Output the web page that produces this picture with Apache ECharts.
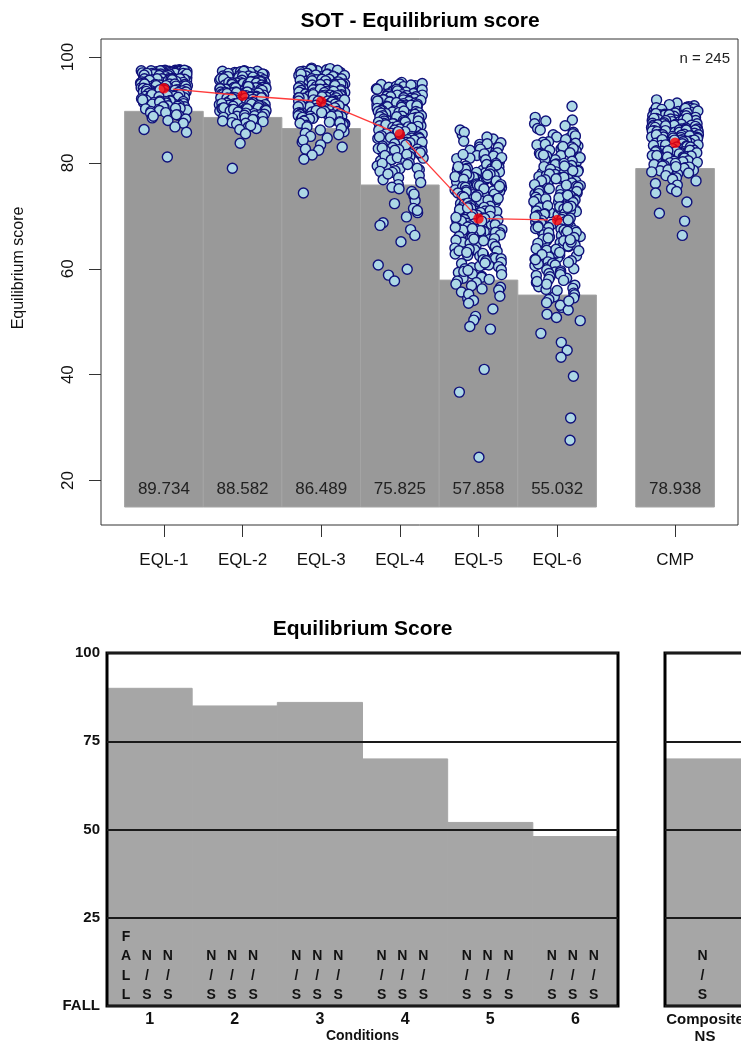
<!DOCTYPE html>
<html>
<head>
<meta charset="utf-8">
<title>SOT - Equilibrium score</title>
<script src="https://cdn.jsdelivr.net/npm/echarts@6.0.0/dist/echarts.min.js"></script>
<style>
  html, body { margin: 0; padding: 0; background: #fff; }
  #chart { width: 741px; height: 1044px; }
</style>
</head>
<body>
<div id="chart"></div>
<script>
(function () {
    'use strict';

    // ---- top panel: SOT equilibrium score ----
    var sotCategories = ['EQL-1', 'EQL-2', 'EQL-3', 'EQL-4', 'EQL-5', 'EQL-6', 'CMP'];
    var sotBarValues = [89.734, 88.582, 86.489, 75.825, 57.858, 55.032, 78.938];
    var sotMeans = [94.1, 92.7, 91.6, 85.4, 69.5, 69.2, 83.8];
    var sampleSize = 245;
    var sotYTicks = [20, 40, 60, 80, 100];
    var sotYName = 'Equilibrium score';

    // individual scores, one list per trial
    var eql1Scores = [
        97.5,97.2,97.4,97.0,97.6,97.3,97.1,97.5,97.2,97.4,
        97.0,97.3,97.1,97.5,97.2,97.4,97.0,97.3,97.1,97.2,
        97.3,97.0,97.1,97.5,97.4,96.9,96.4,96.7,96.1,96.8,
        96.3,96.6,96.0,96.5,96.2,96.8,96.1,96.9,96.5,96.3,
        96.7,96.0,96.4,96.2,96.6,96.9,96.3,96.8,96.1,96.5,
        96.2,96.7,96.4,96.0,96.9,96.6,96.3,96.8,96.5,96.1,
        96.7,96.4,96.2,96.9,96.0,96.6,96.8,96.3,96.5,95.9,
        95.4,95.7,95.1,95.8,95.3,95.6,95.0,95.5,95.2,95.9,
        95.6,95.1,95.8,95.4,95.0,95.7,95.3,95.9,95.2,95.5,
        95.0,95.8,95.3,95.6,95.1,95.4,95.9,95.2,95.7,95.5,
        95.3,95.9,95.0,95.6,95.2,95.8,95.4,95.1,95.7,94.8,
        94.3,94.6,94.1,94.9,94.4,94.0,94.7,94.2,94.5,94.8,
        94.1,94.6,94.3,94.9,94.0,94.5,94.2,94.7,94.4,94.8,
        94.5,94.1,94.7,94.3,94.9,94.2,94.6,94.0,94.4,94.6,
        94.2,94.9,94.5,94.1,93.7,93.2,93.9,93.4,93.0,93.6,
        93.1,93.8,93.3,93.5,93.9,93.2,93.6,93.0,93.4,93.7,
        93.1,93.5,93.8,93.3,93.0,93.6,93.2,93.9,93.4,93.7,
        93.5,93.1,93.8,93.3,92.6,92.1,92.9,92.4,92.0,92.7,
        92.3,92.8,92.5,92.2,92.9,92.6,92.0,92.4,92.7,92.1,
        92.5,92.8,92.3,92.9,92.1,92.6,92.4,92.7,92.5,91.8,
        91.3,91.6,91.1,91.9,91.4,91.0,91.7,91.2,91.5,91.8,
        91.4,91.9,91.1,91.6,91.3,91.7,91.5,90.6,90.2,90.9,
        90.4,90.0,90.7,90.3,90.8,90.1,90.5,90.6,90.3,89.7,
        89.2,89.9,89.4,89.0,89.5,89.1,88.5,88.8,88.0,88.3,
        87.5,86.8,86.3,85.8,81.1
    ];
    var eql2Scores = [
        97.3,96.8,97.1,96.6,97.4,96.9,96.5,97.2,96.7,97.0,
        96.6,97.3,96.9,96.5,97.1,96.7,97.2,96.8,97.0,97.3,
        96.2,95.7,96.4,95.9,96.1,95.5,96.3,95.8,96.0,95.6,
        96.4,95.9,96.1,96.3,95.7,96.2,95.5,96.0,95.8,96.4,
        96.1,95.9,96.3,95.6,95.7,94.8,95.2,94.6,95.4,95.0,
        94.9,95.3,94.7,95.1,94.5,95.4,94.8,95.2,95.0,94.6,
        95.3,94.9,95.1,94.7,95.4,95.0,94.8,95.2,94.5,94.9,
        95.3,95.1,94.7,94.1,93.8,94.3,93.6,94.4,94.0,93.5,
        94.2,93.9,93.7,94.4,94.1,93.5,94.0,93.8,94.3,93.6,
        94.2,93.9,94.0,93.7,94.4,94.1,93.5,93.8,94.3,94.0,
        93.6,94.2,93.9,94.1,93.7,93.3,92.8,93.1,92.6,93.4,
        92.9,93.2,92.5,93.0,92.7,93.3,92.8,93.4,92.6,93.1,
        93.0,92.5,93.2,92.9,93.4,92.7,93.1,92.6,93.3,92.8,
        93.0,92.9,93.2,92.5,93.1,92.7,93.3,92.2,91.8,92.4,
        91.6,92.0,92.3,91.9,91.5,92.1,91.7,92.4,92.2,91.8,
        92.0,91.6,92.3,91.9,92.1,91.5,92.4,91.7,92.2,92.0,
        92.3,91.9,92.1,91.2,90.7,91.4,90.9,91.1,90.5,91.3,
        90.8,91.0,90.6,91.4,90.9,91.2,90.5,91.3,90.7,91.1,
        90.8,91.0,90.6,91.4,91.2,90.9,91.3,90.7,91.1,91.0,
        90.8,91.2,90.3,89.8,90.1,89.6,90.4,89.9,90.0,89.5,
        90.2,89.7,90.3,90.0,89.8,90.4,89.6,90.1,89.9,90.2,
        89.5,90.3,89.7,90.0,90.4,89.8,90.1,89.9,90.2,89.6,
        89.3,88.8,89.1,88.6,89.4,88.9,89.0,88.5,89.2,88.7,
        88.4,88.1,87.8,88.2,87.6,87.9,87.5,87.3,86.8,86.5,
        86.3,87.0,85.5,83.7,79.0
    ];
    var eql3Scores = [
        97.4,97.9,97.1,97.6,97.0,97.8,97.3,97.5,97.2,97.7,
        96.4,96.8,96.1,96.6,96.9,96.3,96.0,96.7,96.5,96.2,
        96.7,96.2,96.9,96.4,96.0,96.5,96.8,96.1,96.6,96.3,
        95.3,95.8,95.1,95.6,95.0,95.9,95.4,95.7,95.2,95.5,
        95.8,95.2,95.6,95.0,95.4,95.9,95.1,95.7,95.3,95.5,
        95.8,95.1,95.5,95.3,94.6,94.1,94.8,94.3,94.9,94.0,
        94.5,94.2,94.7,94.4,94.9,94.0,94.6,94.3,94.8,94.1,
        94.7,94.2,94.5,94.9,94.3,94.0,94.6,94.4,94.8,94.2,
        93.6,93.1,93.8,93.3,93.9,93.0,93.5,93.2,93.7,93.4,
        93.9,93.2,93.6,93.0,93.8,93.3,93.5,93.1,93.7,93.4,
        93.8,93.0,93.6,93.2,93.5,93.9,93.3,92.4,92.8,92.1,
        92.6,92.9,92.3,92.7,92.0,92.5,92.2,92.8,92.4,92.9,
        92.1,92.6,92.3,92.7,92.0,92.5,92.8,92.2,92.6,92.4,
        92.0,92.7,92.3,92.5,91.3,91.8,91.0,91.6,91.2,91.9,
        91.4,91.1,91.7,91.5,91.0,91.8,91.3,91.6,91.2,91.9,
        91.5,91.1,91.7,91.3,91.4,91.9,91.5,91.1,91.7,90.6,
        90.2,90.8,90.4,90.0,90.9,90.3,90.7,90.1,90.5,90.6,
        90.4,90.9,90.1,90.7,90.3,90.0,90.8,90.2,90.6,90.4,
        90.9,90.1,90.6,89.4,89.8,89.1,89.6,89.0,89.9,89.3,
        89.7,89.2,89.5,89.8,89.0,89.6,89.3,89.9,89.1,89.4,
        89.7,89.5,89.2,88.6,88.1,88.9,88.3,88.7,88.0,88.5,
        88.2,88.8,88.4,88.9,88.6,88.0,88.3,88.8,87.4,87.9,
        87.1,87.7,87.3,87.8,87.0,87.5,87.2,87.6,86.8,86.2,
        85.9,86.5,85.3,85.6,85.0,84.7,83.9,84.3,83.0,82.6,
        83.4,82.4,81.5,80.7,74.3
    ];
    var eql4Scores = [
        94.6,95.2,94.1,94.8,94.3,95.0,94.5,94.0,94.9,94.4,
        94.7,93.4,93.9,93.1,93.6,93.0,93.8,93.3,93.5,93.2,
        93.7,93.4,93.9,93.1,93.6,93.8,92.4,92.9,92.1,92.6,
        92.3,92.8,92.0,92.5,92.7,92.2,92.9,92.4,92.6,92.1,
        92.8,92.3,92.5,92.0,91.4,91.8,91.1,91.6,91.0,91.9,
        91.3,91.7,91.2,91.5,91.9,91.0,91.6,91.3,91.8,91.4,
        91.1,91.7,91.2,90.5,90.9,90.2,90.7,90.0,90.4,90.8,
        90.3,90.6,90.1,90.9,90.4,90.7,90.2,90.5,90.0,90.8,
        90.3,90.6,89.4,89.9,89.1,89.7,89.3,89.0,89.8,89.5,
        89.2,89.6,89.9,89.3,89.7,89.0,89.5,89.4,89.8,89.2,
        88.4,88.9,88.1,88.6,88.0,88.7,88.3,88.8,88.2,88.5,
        88.9,88.4,88.1,88.6,88.3,88.7,88.0,87.4,87.9,87.1,
        87.6,87.0,87.8,87.3,87.5,87.2,87.7,87.4,87.9,87.0,
        87.5,87.2,87.7,86.4,86.9,86.1,86.6,86.0,86.8,86.3,
        86.5,86.2,86.7,86.9,86.4,86.0,86.6,86.2,85.4,85.9,
        85.1,85.6,85.0,85.8,85.3,85.7,85.2,85.5,85.9,85.4,
        85.1,84.6,84.1,84.9,84.3,84.7,84.0,84.5,84.8,84.2,
        84.6,84.4,84.9,84.3,83.5,83.9,83.1,83.7,83.2,83.8,
        83.0,83.6,83.3,83.9,83.4,82.6,82.1,82.9,82.3,82.7,
        82.0,82.5,82.8,82.2,82.4,81.5,80.9,81.7,80.4,81.2,
        80.7,81.9,80.1,81.4,80.6,81.0,80.3,81.6,80.0,79.4,
        78.9,79.7,78.5,79.1,78.2,79.9,78.7,79.0,78.4,77.6,
        76.8,77.2,75.9,76.3,75.4,77.9,75.1,74.6,73.8,72.9,
        74.1,72.3,71.4,70.6,69.8,71.0,68.7,68.2,67.4,66.3,
        65.1,60.7,59.9,58.8,57.7
    ];
    var eql5Scores = [
        85.3,86.2,84.5,85.8,84.1,84.9,83.2,82.7,83.8,82.1,
        83.5,82.9,83.0,82.4,83.6,82.6,81.4,80.8,81.9,80.2,
        81.1,80.5,81.7,80.0,81.3,80.9,81.6,80.3,81.0,80.6,
        79.2,78.6,79.7,78.1,79.4,78.9,79.9,78.3,79.0,78.7,
        79.5,78.2,79.1,78.8,79.6,78.4,79.3,77.1,76.5,77.6,
        76.2,77.9,76.8,77.3,76.0,77.5,76.7,77.0,76.4,77.8,
        76.1,77.4,76.9,77.2,76.6,77.7,75.3,74.6,75.8,74.2,
        75.0,74.9,75.5,74.0,75.7,74.4,75.2,74.7,75.9,74.1,
        75.4,74.8,75.1,74.5,75.6,74.3,73.2,72.6,73.7,72.1,
        73.4,72.9,73.0,72.3,73.8,72.7,73.5,72.0,73.1,72.5,
        73.9,72.8,73.3,72.2,73.6,72.4,73.0,71.3,70.5,71.8,
        70.2,71.6,70.9,71.1,70.0,71.5,70.7,71.9,70.4,71.2,
        70.6,71.7,70.1,71.4,70.8,71.0,70.3,71.5,69.4,68.7,
        69.8,68.2,69.1,68.9,69.6,68.4,69.3,68.0,69.9,68.6,
        69.0,68.5,69.5,68.1,69.7,68.8,69.2,68.3,69.0,67.4,
        66.8,67.9,66.2,67.1,66.6,67.7,66.0,67.3,66.9,67.5,
        66.4,67.0,66.7,67.8,66.1,67.2,66.3,67.6,65.2,64.6,
        65.8,64.1,65.5,64.9,65.0,64.3,65.7,64.7,65.4,64.0,
        65.9,64.4,65.3,64.8,65.6,64.2,63.3,62.7,63.9,62.1,
        63.6,62.4,63.0,62.8,63.4,62.2,63.7,62.5,63.1,62.0,
        62.9,61.4,60.8,61.9,60.2,61.0,60.5,61.7,60.0,61.2,
        60.7,61.5,60.4,61.1,59.3,58.6,59.8,58.2,59.0,58.9,
        59.5,58.4,59.7,58.0,57.4,56.8,57.7,56.2,57.1,56.5,
        56.0,55.6,54.4,55.2,54.0,54.8,53.5,52.4,51.0,50.3,
        49.1,48.6,41.0,36.7,24.4
    ];
    var eql6Scores = [
        90.7,88.6,87.4,88.1,86.5,87.9,86.2,87.0,85.3,84.6,
        85.8,84.2,85.0,84.9,85.5,84.0,85.1,84.4,83.2,82.6,
        83.7,82.1,83.9,82.9,83.4,82.3,83.0,82.7,83.5,82.4,
        83.1,81.4,80.6,81.8,80.2,81.1,80.9,81.6,80.0,81.3,
        80.4,81.9,80.7,81.0,80.3,81.5,79.2,78.6,79.8,78.1,
        79.5,78.9,79.0,78.4,79.7,78.3,79.3,78.8,79.9,78.0,
        79.4,78.5,76.7,77.4,76.1,77.8,76.9,77.2,76.4,77.6,
        76.0,77.1,76.5,77.9,76.8,77.3,76.2,77.0,76.6,74.8,
        75.3,74.1,75.9,74.5,75.0,74.9,75.6,74.3,75.2,74.7,
        75.7,74.0,75.4,74.6,75.1,74.2,75.8,73.3,72.6,73.8,
        72.1,73.5,72.9,73.0,72.4,73.7,72.2,73.1,72.8,73.4,
        72.0,73.9,72.5,73.2,72.7,71.5,70.6,71.9,70.2,71.1,
        70.8,71.4,70.0,71.7,70.4,71.0,70.9,71.3,70.5,71.8,
        70.1,71.6,70.3,69.5,68.8,69.9,68.2,69.1,68.6,69.7,
        68.4,69.3,68.0,69.0,68.9,69.6,68.5,69.2,68.1,69.8,
        67.2,66.6,67.8,66.1,67.5,66.9,67.0,66.3,67.6,66.0,
        67.3,66.7,67.9,66.4,67.1,66.8,65.4,64.7,65.9,64.2,
        65.1,64.9,65.6,64.0,65.3,64.5,65.8,64.3,65.0,64.8,
        65.5,63.2,62.6,63.8,62.1,63.5,62.9,63.0,62.4,63.7,
        62.2,63.4,62.7,63.1,61.3,60.6,61.8,60.2,61.0,60.9,
        61.5,60.4,61.7,60.0,61.2,60.7,59.4,58.7,59.8,58.2,
        59.1,58.5,59.6,58.0,59.3,58.9,57.4,56.6,57.8,56.1,
        57.1,56.9,57.6,56.3,55.4,54.7,55.9,54.2,55.1,54.5,
        53.6,52.7,53.1,52.2,53.9,51.4,50.8,50.2,47.8,46.1,
        44.6,43.3,39.7,31.8,27.6
    ];
    var cmpScores = [
        91.9,90.8,91.3,90.6,91.0,90.5,89.8,90.3,89.6,90.1,
        89.9,90.4,89.5,90.2,89.7,90.0,89.6,90.3,89.8,90.1,
        89.0,88.6,89.3,88.8,89.4,88.5,89.1,88.7,89.2,88.9,
        88.7,89.2,88.5,89.4,88.9,89.0,88.6,89.3,88.8,89.1,
        88.1,87.6,88.4,87.9,88.2,87.5,88.0,87.7,88.3,87.8,
        88.2,87.6,88.4,87.9,88.0,87.5,88.3,87.7,88.1,87.8,
        88.0,87.6,88.4,87.1,86.7,87.4,86.9,87.2,86.5,87.0,
        86.8,87.3,86.6,87.1,86.9,87.4,86.5,87.2,86.7,87.0,
        86.8,87.3,86.6,87.1,86.9,87.0,86.7,86.1,85.6,86.4,
        85.9,86.2,85.7,86.0,85.5,86.3,85.8,86.1,85.6,86.4,
        85.9,86.2,85.7,86.0,86.3,85.8,86.1,85.5,86.0,85.9,
        86.2,85.1,84.6,85.3,84.9,85.2,84.5,85.4,84.8,85.0,
        84.7,85.3,84.6,85.1,84.9,85.4,84.5,85.2,84.8,85.0,
        84.7,85.1,84.9,85.3,84.6,84.1,83.6,84.4,83.9,84.2,
        83.7,84.0,83.5,84.3,83.8,84.1,83.6,84.4,83.9,84.2,
        83.7,84.0,83.5,84.3,83.8,84.1,84.0,83.6,82.9,83.4,
        82.6,83.1,82.8,83.3,82.5,83.0,82.7,83.2,82.9,83.4,
        82.6,83.1,82.8,83.3,82.5,83.0,82.7,82.1,81.6,82.4,
        81.9,82.2,81.7,82.0,81.5,82.3,81.8,82.1,81.6,82.4,
        81.9,82.2,81.7,82.0,82.3,81.1,80.6,81.4,80.9,81.2,
        80.7,81.3,80.5,81.0,80.8,81.4,80.6,81.1,80.9,80.1,
        79.6,80.3,79.8,80.0,79.5,80.4,79.7,80.2,79.9,80.1,
        79.1,78.6,79.4,78.8,79.2,78.5,79.0,78.7,77.9,77.2,
        78.3,76.6,77.6,76.1,78.1,76.9,75.8,75.1,74.6,74.3,
        72.6,70.5,69.0,66.3,79.3
    ];
    var sotScores = [eql1Scores, eql2Scores, eql3Scores, eql4Scores, eql5Scores, eql6Scores, cmpScores];

    // ---- bottom panel: equilibrium score by condition ----
    var conditionLabels = ['1', '2', '3', '4', '5', '6'];
    var conditionScores = [90, 85, 86, 70, 52, 48];
    var conditionMarks = [
        ['FALL', 'NS', 'NS'],
        ['NS', 'NS', 'NS'],
        ['NS', 'NS', 'NS'],
        ['NS', 'NS', 'NS'],
        ['NS', 'NS', 'NS'],
        ['NS', 'NS', 'NS']
    ];
    var compositeLabel = 'Composite';
    var compositeGrade = 'NS';
    var compositeScore = 70;
    var compositeMarks = ['NS'];
    var scoreTicks = [0, 25, 50, 75, 100];
    var scoreTickLabels = ['FALL', '25', '50', '75', '100'];
    var conditionAxisName = 'Conditions';

    // ---- layout ----
    var catX = [1, 2, 3, 4, 5, 6, 7.5];   // strip positions on the top x axis
    var barBase = 15;                       // bars in the top panel start here
    var jitterHalf = 0.3;                   // half width of the horizontal jitter
    var markOffsets = [-0.276, -0.032, 0.215];
    var fontTop = '"Liberation Sans", Arial, sans-serif';
    var fontBottom = '"Liberation Sans", Arial, sans-serif';

    // horizontal jitter only (display spread, the scores themselves are untouched)
    function jitterUnit(i, k) {
        var s = Math.sin((i + 1) * 12.9898 + (k + 1) * 78.233) * 43758.5453;
        return s - Math.floor(s);
    }

    var pointData = [];
    sotScores.forEach(function (list, k) {
        list.forEach(function (v, i) {
            pointData.push([catX[k] + (jitterUnit(i, k) * 2 - 1) * jitterHalf, v]);
        });
    });

    var meanSegments = [];
    for (var s = 0; s < 5; s++) {
        meanSegments.push([catX[s], sotMeans[s], catX[s + 1], sotMeans[s + 1]]);
    }

    function spell(mark) {
        return mark === 'NS' ? 'N\n/\nS' : mark.split('').join('\n');
    }

    var markItems = [];
    conditionMarks.forEach(function (marks, i) {
        marks.forEach(function (m, j) {
            markItems.push({ x: i + 0.5 + markOffsets[j], text: spell(m) });
        });
    });
    var compositeItems = compositeMarks.map(function (m) {
        return { x: 0.5 + markOffsets[1], text: spell(m) };
    });

    function marksRenderer(items) {
        return function (params, api) {
            var p = api.coord([api.value(0), 0]);
            return {
                type: 'text',
                x: p[0],
                y: p[1] - 1,
                style: {
                    text: items[params.dataIndex].text,
                    align: 'center',
                    verticalAlign: 'bottom',
                    lineHeight: 19.5,
                    font: 'bold 14px ' + fontBottom,
                    fill: '#111'
                }
            };
        };
    }

    function scoreBarRenderer(color) {
        return function (params, api) {
            var i = api.value(0), v = api.value(1);
            var a = api.coord([i, v]);
            var b = api.coord([i + 1, 0]);
            return {
                type: 'rect',
                shape: { x: a[0], y: a[1], width: b[0] - a[0], height: b[1] - a[1] },
                style: { fill: color, stroke: color, lineWidth: 1 }
            };
        };
    }

    var chart = echarts.init(document.getElementById('chart'), null, { renderer: 'canvas' });

    chart.setOption({
        animation: false,
        backgroundColor: '#fff',
        title: [
            {
                text: 'SOT - Equilibrium score',
                left: 420, top: 11, padding: 0, textAlign: 'center',
                textStyle: { fontFamily: fontTop, fontSize: 21, fontWeight: 'bold', color: '#000' }
            },
            {
                text: 'n = ' + sampleSize,
                right: 11, top: 51, padding: 0,
                textStyle: { fontFamily: fontTop, fontSize: 15, fontWeight: 'normal', color: '#222' }
            },
            {
                text: 'Equilibrium Score',
                left: 362.5, top: 619, padding: 0, textAlign: 'center',
                textStyle: { fontFamily: fontBottom, fontSize: 21, fontWeight: 'bold', color: '#000' }
            }
        ],
        graphic: [
            {
                type: 'text', x: 19, y: 268, rotation: Math.PI / 2, silent: true,
                style: {
                    text: sotYName, align: 'center', verticalAlign: 'middle',
                    font: '16px ' + fontTop, fill: '#111'
                }
            }
        ],
        grid: [
            { left: 101, top: 39, width: 637, height: 486, outerBoundsMode: 'none',
              show: true, borderColor: '#333', borderWidth: 1 },
            { left: 107, top: 653, width: 511, height: 353, outerBoundsMode: 'none',
              show: true, borderColor: '#000', borderWidth: 3, z: 5 },
            { left: 665, top: 653, width: 80, height: 353, outerBoundsMode: 'none',
              show: true, borderColor: '#000', borderWidth: 3, z: 5 }
        ],
        xAxis: [
            {
                gridIndex: 0, type: 'value', min: 0.2, max: 8.3,
                axisLine: { show: false },
                splitLine: { show: false },
                axisTick: { show: true, customValues: catX, length: 12, lineStyle: { color: '#333' } },
                axisLabel: {
                    customValues: catX, margin: 27,
                    fontFamily: fontTop, fontSize: 17, color: '#111',
                    formatter: function (v) {
                        for (var i = 0; i < catX.length; i++) {
                            if (Math.abs(catX[i] - v) < 1e-6) return sotCategories[i];
                        }
                        return '';
                    }
                }
            },
            {
                gridIndex: 1, type: 'value', min: 0, max: 6,
                axisLine: { show: false }, axisTick: { show: false }, splitLine: { show: false },
                axisLabel: {
                    customValues: [0.5, 1.5, 2.5, 3.5, 4.5, 5.5], margin: 6,
                    fontFamily: fontBottom, fontSize: 16, fontWeight: 'bold', color: '#111',
                    formatter: function (v) { return conditionLabels[Math.round(v - 0.5)]; }
                },
                name: conditionAxisName, nameLocation: 'middle', nameGap: 23,
                nameTextStyle: { fontFamily: fontBottom, fontSize: 14, fontWeight: 'bold', color: '#111' }
            },
            {
                gridIndex: 2, type: 'value', min: 0, max: 1,
                axisLine: { show: false }, axisTick: { show: false }, splitLine: { show: false },
                axisLabel: {
                    customValues: [0.5], margin: 6,
                    fontFamily: fontBottom, fontSize: 15, fontWeight: 'bold', color: '#111',
                    formatter: function () { return compositeLabel; }
                },
                name: compositeGrade, nameLocation: 'middle', nameGap: 23,
                nameTextStyle: { fontFamily: fontBottom, fontSize: 15, fontWeight: 'bold', color: '#111' }
            }
        ],
        yAxis: [
            {
                gridIndex: 0, type: 'value', min: 11.6, max: 103.4,
                axisLine: { show: false },
                splitLine: { show: false },
                axisTick: { show: true, customValues: sotYTicks, length: 12, lineStyle: { color: '#333' } },
                axisLabel: {
                    customValues: sotYTicks, rotate: 90, margin: 24,
                    fontFamily: fontTop, fontSize: 17, color: '#111'
                }
            },
            {
                gridIndex: 1, type: 'value', min: 0, max: 100, interval: 25, z: 5,
                axisLine: { show: false }, axisTick: { show: false },
                splitLine: { show: true, lineStyle: { color: '#1a1a1a', width: 2 } },
                axisLabel: {
                    margin: 7, fontFamily: fontBottom, fontSize: 15, fontWeight: 'bold', color: '#111',
                    formatter: function (v) { return scoreTickLabels[scoreTicks.indexOf(v)]; }
                }
            },
            {
                gridIndex: 2, type: 'value', min: 0, max: 100, interval: 25, z: 5,
                axisLine: { show: false }, axisTick: { show: false }, axisLabel: { show: false },
                splitLine: { show: true, lineStyle: { color: '#1a1a1a', width: 2 } }
            }
        ],
        series: [
            {
                name: 'sot bars', type: 'custom', xAxisIndex: 0, yAxisIndex: 0, z: 1,
                encode: { x: 0, y: 1 },
                data: sotBarValues.map(function (v, i) { return [catX[i], v]; }),
                renderItem: function (params, api) {
                    var x = api.value(0), v = api.value(1);
                    var a = api.coord([x - 0.5, v]);
                    var b = api.coord([x + 0.5, barBase]);
                    return {
                        type: 'group',
                        children: [
                            {
                                type: 'rect',
                                shape: { x: a[0], y: a[1], width: b[0] - a[0], height: b[1] - a[1] },
                                style: { fill: '#999999', stroke: '#a4a4a4', lineWidth: 1 }
                            },
                            {
                                type: 'text', x: (a[0] + b[0]) / 2, y: b[1] - 18,
                                style: {
                                    text: v.toFixed(3), align: 'center', verticalAlign: 'middle',
                                    font: '17px ' + fontTop, fill: '#222'
                                }
                            }
                        ]
                    };
                }
            },
            {
                name: 'scores', type: 'scatter', xAxisIndex: 0, yAxisIndex: 0, z: 2,
                data: pointData, symbolSize: 10, large: false, progressive: 0,
                itemStyle: { color: '#add8e6', borderColor: '#10107a', borderWidth: 1.4, opacity: 1 }
            },
            {
                name: 'mean line', type: 'custom', xAxisIndex: 0, yAxisIndex: 0, z: 3,
                encode: { x: [0, 2], y: [1, 3] },
                data: meanSegments,
                renderItem: function (params, api) {
                    var p = api.coord([api.value(0), api.value(1)]);
                    var q = api.coord([api.value(2), api.value(3)]);
                    var dx = q[0] - p[0], dy = q[1] - p[1];
                    var len = Math.sqrt(dx * dx + dy * dy), gap = 9;
                    var ux = dx / len, uy = dy / len;
                    return {
                        type: 'line',
                        shape: { x1: p[0] + ux * gap, y1: p[1] + uy * gap, x2: q[0] - ux * gap, y2: q[1] - uy * gap },
                        style: { stroke: '#ff3b3b', lineWidth: 1.4 }
                    };
                }
            },
            {
                name: 'means', type: 'scatter', xAxisIndex: 0, yAxisIndex: 0, z: 4,
                data: sotMeans.map(function (m, i) { return [catX[i], m]; }),
                symbolSize: 10.5, itemStyle: { color: '#ff0000' }
            },
            {
                name: 'condition bars', type: 'custom', xAxisIndex: 1, yAxisIndex: 1, z: 1,
                encode: { x: 0, y: 1 },
                data: conditionScores.map(function (v, i) { return [i, v]; }),
                renderItem: scoreBarRenderer('#a6a6a6')
            },
            {
                name: 'composite bar', type: 'custom', xAxisIndex: 2, yAxisIndex: 2, z: 1,
                encode: { x: 0, y: 1 },
                data: [[0, compositeScore]],
                renderItem: scoreBarRenderer('#a6a6a6')
            },
            {
                name: 'condition marks', type: 'custom', xAxisIndex: 1, yAxisIndex: 1, z: 6,
                encode: { x: 0, y: 1 },
                data: markItems.map(function (m) { return [m.x, 0]; }),
                renderItem: marksRenderer(markItems)
            },
            {
                name: 'composite marks', type: 'custom', xAxisIndex: 2, yAxisIndex: 2, z: 6,
                encode: { x: 0, y: 1 },
                data: compositeItems.map(function (m) { return [m.x, 0]; }),
                renderItem: marksRenderer(compositeItems)
            }
        ]
    });
})();
</script>
</body>
</html>
